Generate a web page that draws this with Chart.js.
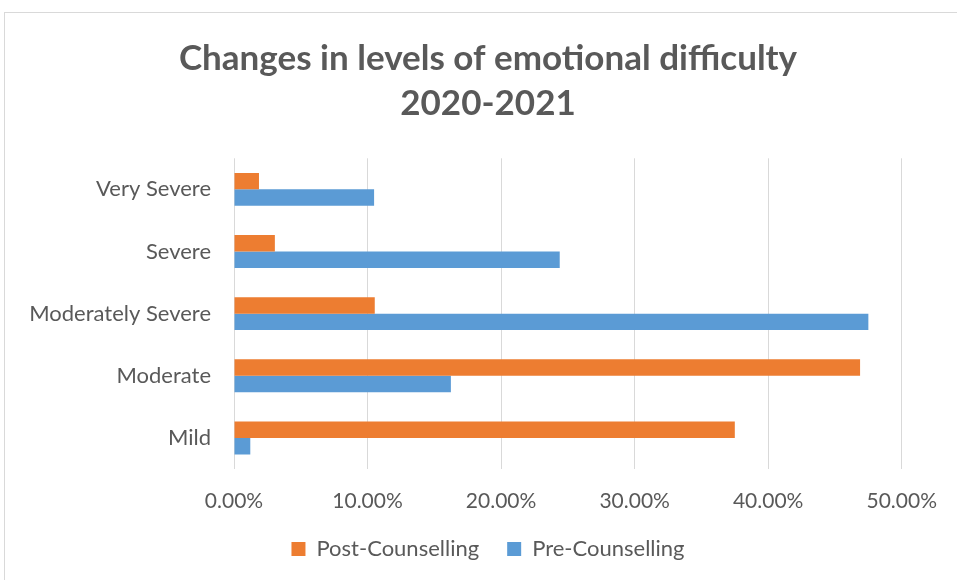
<!DOCTYPE html>
<html>
<head>
<meta charset="utf-8">
<script src="https://cdn.jsdelivr.net/npm/chart.js@4.4.1/dist/chart.umd.min.js"></script>
<style>
  html, body { margin: 0; padding: 0; background: #ffffff; }
  #wrap { position: relative; width: 957px; height: 580px; }
</style>
</head>
<body>
<div id="wrap"><canvas id="chart" width="957" height="580"></canvas></div>
<script>
// Share of clients at each level of emotional difficulty (percent)
const categories = ['Very Severe', 'Severe', 'Moderately Severe', 'Moderate', 'Mild'];
const postCounselling = [1.87, 3.06, 10.54, 46.88, 37.5];
const preCounselling = [10.49, 24.39, 47.5, 16.24, 1.22];
const xTicks = [0, 10, 20, 30, 40, 50];

const textColor = '#595959';
const fontFamily = 'Lato, "Open Sans", sans-serif';

// Thin grey frame around the chart
const framePlugin = {
  id: 'frame',
  beforeDraw(chart) {
    const ctx = chart.ctx;
    ctx.save();
    ctx.strokeStyle = '#d9d9d9';
    ctx.lineWidth = 1;
    ctx.strokeRect(4.5, 12.5, 1000, 700);
    ctx.restore();
  }
};

new Chart(document.getElementById('chart'), {
  type: 'bar',
  data: {
    labels: categories,
    datasets: [
      {
        label: 'Post-Counselling',
        data: postCounselling,
        backgroundColor: '#ED7D31',
        barPercentage: 1,
        categoryPercentage: 0.53
      },
      {
        label: 'Pre-Counselling',
        data: preCounselling,
        backgroundColor: '#5B9BD5',
        barPercentage: 1,
        categoryPercentage: 0.53
      }
    ]
  },
  options: {
    indexAxis: 'y',
    responsive: false,
    animation: false,
    layout: { padding: { left: 19, right: 0, top: 0, bottom: 10 } },
    plugins: {
      title: {
        display: true,
        text: ['Changes in levels of emotional difficulty', '2020-2021'],
        color: textColor,
        font: { family: fontFamily, size: 35, weight: 'bold', lineHeight: 1.29 },
        padding: { top: 36, bottom: 32 }
      },
      legend: {
        display: true,
        position: 'bottom',
        labels: {
          color: textColor,
          font: { family: fontFamily, size: 22 },
          boxWidth: 14,
          boxHeight: 14,
          padding: 28
        }
      },
      tooltip: { enabled: false }
    },
    scales: {
      x: {
        min: 0,
        max: 50,
        afterBuildTicks(scale) {
          scale.ticks = xTicks.map(v => ({ value: v }));
        },
        afterFit(scale) { scale.height = 41; },
        ticks: {
          color: textColor,
          font: { family: fontFamily, size: 21 },
          padding: 20,
          callback: v => Number(v).toFixed(2) + '%'
        },
        grid: { color: '#d9d9d9', lineWidth: 1, drawTicks: false },
        border: { display: false }
      },
      y: {
        afterFit(scale) { scale.width = 215; },
        ticks: {
          color: textColor,
          font: { family: fontFamily, size: 22 },
          padding: 23
        },
        grid: { display: false, drawTicks: false },
        border: { display: false }
      },
      // empty margin on the right of the plot for the last tick label
      yRight: {
        type: 'category',
        position: 'right',
        afterFit(scale) { scale.width = 54; },
        ticks: { display: false },
        grid: { display: false, drawTicks: false },
        border: { display: false }
      }
    }
  },
  plugins: [framePlugin]
});
</script>
</body>
</html>
